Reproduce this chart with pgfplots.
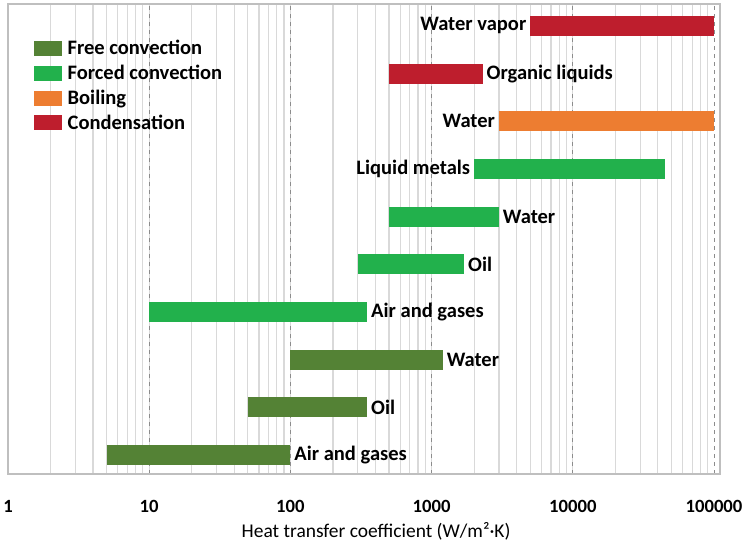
\documentclass[border=0pt]{standalone}
\usepackage{pgfplots}
\pgfplotsset{compat=1.18}
\usepackage{fontspec}
\setmainfont{Carlito}
\definecolor{freec}{HTML}{548235}
\definecolor{forcedc}{HTML}{22B14C}
\definecolor{boilc}{HTML}{ED7D31}
\definecolor{condc}{HTML}{BE1E2D}
\definecolor{majgrid}{HTML}{8C8C8C}
\definecolor{mingrid}{HTML}{D9D9D9}
\definecolor{framec}{HTML}{BFBFBF}
\newcommand{\lblfont}{\fontsize{15.4}{18}\selectfont\bfseries}
\tikzset{bl/.style={font=\lblfont, text=black, inner sep=3pt, outer sep=0pt}}
\begin{document}
\begin{tikzpicture}
\path[use as bounding box] (-6pt,-53.25pt) rectangle (550.5pt,355.5pt);
\begin{axis}[
  at={(0,0)}, anchor=south west,
  scale only axis, width=534pt, height=352.5pt,
  xmode=log, xmin=1, xmax=110300,
  ymin=-0.4, ymax=9.46,
  ytick=\empty,
  xtick={1,10,100,1000,10000,100000},
  xticklabels={1,10,100,1000,10000,100000},
  /pgf/number format/assume math mode=true,
  xticklabel style={font=\fontsize{14}{16}\selectfont\bfseries, yshift=-16pt},
  major tick length=0pt, minor tick length=0pt,
  xmajorgrids=true, xminorgrids=true,
  major grid style={majgrid, dashed, line width=0.6pt},
  minor grid style={mingrid, line width=0.9pt},
  axis line style={framec, line width=1pt},
  xlabel={Heat transfer coefficient (W/m²·K)},
  x label style={at={(axis description cs:0.517,0)}, anchor=center, yshift=-43pt, font=\fontsize{14.6}{17}\selectfont},
  legend style={at={(0.031,0.932)}, anchor=north west, draw=none, fill=none,
    font=\lblfont, row sep=4.3pt, legend cell align=left,
    nodes={inner sep=1pt, outer sep=0pt, text=black},
    /tikz/every odd column/.append style={column sep=3pt}},
  legend image code/.code={\fill[#1, draw=none, line width=0pt] (0pt,-5.6pt) rectangle (21pt,5.6pt);},
  every axis plot/.append style={line width=15pt, line cap=butt, mark=none},
  clip=false,
]
% Free convection
\addplot[freec] coordinates {(5,0) (100,0)} node[pos=1, anchor=west, bl] {Air and gases};
\addlegendentry{Free convection}
\addplot[freec, forget plot] coordinates {(50,1) (350,1)} node[pos=1, anchor=west, bl] {Oil};
\addplot[freec, forget plot] coordinates {(100,2) (1200,2)} node[pos=1, anchor=west, bl] {Water};
% Forced convection
\addplot[forcedc] coordinates {(10,3) (350,3)} node[pos=1, anchor=west, bl] {Air and gases};
\addlegendentry{Forced convection}
\addplot[forcedc, forget plot] coordinates {(300,4) (1700,4)} node[pos=1, anchor=west, bl] {Oil};
\addplot[forcedc, forget plot] coordinates {(500,5) (3000,5)} node[pos=1, anchor=west, bl] {Water};
\addplot[forcedc, forget plot] coordinates {(2000,6) (45000,6)} node[pos=0, anchor=east, bl] {Liquid metals};
% Boiling
\addplot[boilc] coordinates {(3000,7) (100000,7)} node[pos=0, anchor=east, bl] {Water};
\addlegendentry{Boiling}
% Condensation
\addplot[condc] coordinates {(500,8) (2300,8)} node[pos=1, anchor=west, bl] {Organic liquids};
\addlegendentry{Condensation}
\addplot[condc, forget plot] coordinates {(5000,9) (100000,9)} node[pos=0, anchor=east, bl] {Water vapor};
\end{axis}
\end{tikzpicture}
\end{document}
